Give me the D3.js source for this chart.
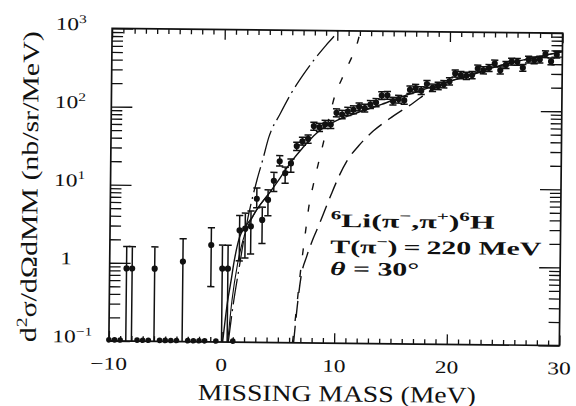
<!doctype html>
<html>
<head>
<meta charset="utf-8">
<script src="https://cdnjs.cloudflare.com/ajax/libs/d3/7.8.5/d3.min.js"></script>
<style>
  body { margin: 0; background: #fff; }
  svg { display: block; }
  text { font-family: 'Liberation Serif', serif; fill: #111; }
</style>
</head>
<body>
<script>
const W = 576, H = 406;
const x0 = 110.5, x1 = 561, y0 = 30.8, y1 = 343.2;
const tilt = 0.6; // the scanned figure sits slightly rotated

// points with zero counts, drawn on the bottom axis
const zeroX = [-10, -9.5, -9, -7.5, -7, -6.5, -5.5, -5, -4.5, -4, -3, -2.5, -2, -1.5, -0.5, 1];

// measured points
const ptX = [-8.5, -8, -6, -3.5, -1, 0, 0.5, 1.5, 2, 2.5, 3, 3.5, 4, 4.5, 5, 5.5, 6,
  6.5, 7, 7.5, 8, 8.5, 9, 9.5, 10, 10.5, 11, 11.5, 12, 12.5, 13, 13.5, 14, 14.5, 15, 15.5, 16,
  16.5, 17, 17.5, 18, 18.5, 19, 19.5, 20, 20.5, 21, 21.5, 22, 22.5, 23, 23.5, 24, 24.5, 25,
  25.5, 26, 26.5, 27, 27.5, 28, 28.5, 29, 29.5];
const ptY = [0.85, 0.85, 0.85, 1.06, 1.74, 0.87, 0.87, 2.7, 2.85, 3.05, 6.9, 3.7, 6.7, 11.8, 21, 14.8, 19.8,
  33, 38, 41, 60, 58, 63, 63, 89, 85, 93, 98, 107, 103, 115, 122, 150, 152, 128, 136, 131,
  180, 189, 176, 214, 192, 203, 214, 233, 295, 282, 276, 283, 343, 327, 350, 400, 328, 385,
  425, 423, 356, 455, 445, 456, 535, 433, 530];
const ptLo = [0.1, 0.1, 0.1, 0.1, 0.51, 0.1, 0.1, 1.1, 1.2, 1.35, 5.3, 1.85, 4.2, 8.6, 18.3, 11, 15.2,
  29, 34, 36, 53, 51, 56, 56, 79, 75, 83, 87, 95, 92, 102, 108, 134, 135, 114, 121, 117,
  161, 169, 157, 192, 172, 182, 192, 209, 265, 253, 248, 254, 309, 294, 315, 361, 295, 347,
  384, 382, 321, 411, 402, 412, 484, 391, 480];
const ptHi = [1.62, 1.62, 1.62, 2.07, 2.9, 1.74, 1.74, 4.2, 4.5, 4.8, 9.5, 5.4, 9.0, 15.1, 24.8, 17.7, 22.5,
  37, 43, 46, 67, 65, 71, 71, 100, 96, 105, 110, 120, 116, 129, 137, 168, 170, 143, 152, 147,
  201, 211, 197, 238, 214, 226, 238, 259, 327, 313, 306, 314, 380, 362, 387, 442, 363, 426,
  469, 467, 393, 502, 491, 503, 590, 478, 585];

// calculated curves
const fitX = [0.1, 0.5, 0.8, 1.0, 1.5, 2, 2.5, 3, 4, 5, 6, 7, 8, 9, 10, 11, 12, 13, 14, 16, 18, 20, 22, 24, 26, 28, 30];
const fitY = [0.1, 0.33, 0.62, 0.98, 2.2, 3.0, 3.8, 5.0, 7.8, 12.5, 20.5, 31, 45, 59, 71, 81, 92, 103, 116, 150, 188, 233, 285, 360, 430, 500, 580];
const fit2X = [0.55, 0.9, 1.35, 1.8, 2.3, 2.8, 3.2, 4];
const fit2Y = [0.1, 0.35, 1.0, 2.0, 3.2, 4.4, 5.5, 7.8];
const longDashX = [6.4, 6.7, 7.0, 7.5, 8.0, 8.4, 9.0, 9.6, 10.3, 11, 12, 13.3, 14.7, 16.8, 18.3, 20, 22, 24, 26, 28, 30];
const longDashY = [0.1, 0.3, 0.7, 1.3, 2.1, 2.9, 4.8, 8.0, 14, 22, 34, 53, 76, 122, 176, 232, 290, 360, 430, 500, 580];
const shortDashX = [6.3, 6.6, 6.9, 7.35, 7.65, 8.0, 8.4, 9.0, 9.5, 9.9, 10.4, 10.8, 11.3, 11.7, 12.1];
const shortDashY = [0.1, 0.25, 0.7, 2.6, 5.8, 10.5, 19, 45, 95, 160, 235, 320, 460, 640, 1070];
const dashDotX = [0.6, 1.0, 1.5, 2.0, 2.5, 3.0, 3.5, 4, 5, 6, 7, 8, 9, 10, 10.2];
const dashDotY = [0.1, 0.3, 0.9, 2.6, 6, 12, 22, 42, 85, 160, 270, 430, 650, 980, 1100];

// axis labels
const xTickVals = [-10, 0, 10, 20, 30];
const xTickText = ['\u221210', '0', '10', '20', '30'];
const yTickVals = [0.1, 1, 10, 100, 1000];
const yTickBase = ['10', '1', '10', '10', '10'];
const yTickExp = ['\u22121', '', '1', '2', '3'];

const svg = d3.select('body').append('svg').attr('width', W).attr('height', H);
const g = svg.append('g')
  .attr('transform', `rotate(${tilt},${(x0 + x1) / 2},${(y0 + y1) / 2})`);

const x = d3.scaleLinear().domain([-10, 30]).range([x0, x1]);
const y = d3.scaleLog().domain([0.1, 1000]).range([y1, y0]);

// ticks
const minorX = d3.range(-10, 31, 1).filter(v => v % 10 !== 0);
const minorY = [];
[0.1, 1, 10, 100].forEach(d => { for (let k = 2; k <= 9; k++) minorY.push(d * k); });

function tickAxis(axis, tr) {
  const a = g.append('g').attr('transform', tr).call(axis);
  a.select('.domain').remove();
  a.selectAll('line').attr('stroke', '#111').attr('stroke-width', 1.3);
}
tickAxis(d3.axisBottom(x).tickValues(minorX).tickSize(-5).tickFormat(''), `translate(0,${y1})`);
tickAxis(d3.axisBottom(x).tickValues(xTickVals).tickSize(-10).tickFormat(''), `translate(0,${y1})`);
tickAxis(d3.axisTop(x).tickValues(minorX).tickSize(-5).tickFormat(''), `translate(0,${y0})`);
tickAxis(d3.axisTop(x).tickValues(xTickVals).tickSize(-10).tickFormat(''), `translate(0,${y0})`);
tickAxis(d3.axisLeft(y).tickValues(minorY).tickSize(-11).tickFormat(''), `translate(${x0},0)`);
tickAxis(d3.axisLeft(y).tickValues(yTickVals).tickSize(-21).tickFormat(''), `translate(${x0},0)`);
tickAxis(d3.axisRight(y).tickValues(minorY).tickSize(-11).tickFormat(''), `translate(${x1},0)`);
tickAxis(d3.axisRight(y).tickValues(yTickVals).tickSize(-21).tickFormat(''), `translate(${x1},0)`);

g.append('rect')
  .attr('x', x0).attr('y', y0)
  .attr('width', x1 - x0).attr('height', y1 - y0)
  .attr('fill', 'none').attr('stroke', '#111').attr('stroke-width', 1.7);

// curves
g.append('clipPath').attr('id', 'plotclip').append('rect')
  .attr('x', x0).attr('y', y0).attr('width', x1 - x0).attr('height', y1 - y0);
const line = d3.line().x(d => x(d[0])).y(d => y(d[1])).curve(d3.curveMonotoneX);
const curves = g.append('g').attr('clip-path', 'url(#plotclip)')
  .attr('fill', 'none').attr('stroke', '#111');
function drawCurve(xs, ys, dash, w) {
  curves.append('path')
    .attr('d', line(d3.zip(xs, ys)))
    .attr('stroke-width', w)
    .attr('stroke-dasharray', dash);
}
drawCurve(fitX, fitY, null, 1.4);
drawCurve(fit2X, fit2Y, null, 1.1);
drawCurve(longDashX, longDashY, '17,8', 1.4);
drawCurve(shortDashX, shortDashY, '7,15', 1.4);
drawCurve(dashDotX, dashDotY, '26,5,2,5', 1.3);

// data
const pts = g.append('g');
const rows = ptX.map((v, i) => ({ x: v, y: ptY[i], lo: ptLo[i], hi: ptHi[i] }));
pts.selectAll('.bar').data(rows).enter().append('path')
  .attr('class', 'bar')
  .attr('fill', 'none').attr('stroke', '#111').attr('stroke-width', 1.5)
  .attr('d', d => {
    const px = x(d.x), c = 3.6;
    return `M${px},${y(d.lo)}V${y(d.hi)}M${px - c},${y(d.hi)}H${px + c}` +
      (d.lo > 0.1 ? `M${px - c},${y(d.lo)}H${px + c}` : '');
  });
pts.selectAll('.pt').data(rows).enter().append('circle')
  .attr('class', 'pt')
  .attr('cx', d => x(d.x)).attr('cy', d => y(d.y)).attr('r', 3.1)
  .attr('fill', '#111');
pts.selectAll('.zero').data(zeroX).enter().append('circle')
  .attr('class', 'zero')
  .attr('cx', d => x(d)).attr('cy', y(0.1) - 1).attr('r', 2.8)
  .attr('fill', '#111');

// rich text helper: parts are [text, superscript?, italic?]
function rich(sel, parts, size) {
  let shift = 0;
  parts.forEach(([t, sup, it]) => {
    const want = sup ? -size * 0.4 : 0;
    const ts = sel.append('tspan').attr('dy', want - shift)
      .style('font-size', (sup ? size * 0.66 : size) + 'px').text(t);
    if (it) ts.style('font-style', 'italic');
    shift = want;
  });
  return sel;
}

// tick labels
xTickVals.forEach((v, i) => {
  g.append('text')
    .attr('transform', `translate(${x(v)},372) scale(1.3,1)`)
    .attr('text-anchor', 'middle')
    .style('font-size', '18px')
    .text(xTickText[i]);
});
yTickVals.forEach((v, i) => {
  const base = yTickBase[i];
  const t = g.append('text')
    .attr('transform', `translate(${base === '1' ? 61 : 54},${y(v) + 2}) scale(1.3,1)`);
  rich(t, [[base, false], [yTickExp[i], true]], 18);
});

// axis titles
g.append('text')
  .attr('x', 200).attr('y', 401.5)
  .attr('textLength', 278).attr('lengthAdjust', 'spacingAndGlyphs')
  .style('font-size', '23px')
  .text('MISSING MASS (MeV)');
rich(g.append('text')
  .attr('transform', `translate(37.5,${190 + 311 / 2}) rotate(-90)`)
  .attr('textLength', 311).attr('lengthAdjust', 'spacingAndGlyphs'),
  [['d', false], ['2', true], ['\u03c3/d\u03a9dMM (nb/sr/MeV)', false]], 23);

// reaction annotation
const note = g.append('g').style('font-weight', 'bold');
rich(note.append('text').attr('x', 331).attr('y', 227)
  .attr('textLength', 164).attr('lengthAdjust', 'spacingAndGlyphs'),
  [['6', true], ['Li(\u03c0', false], ['\u2212', true], [',\u03c0', false], ['+', true], [')', false], ['6', true], ['H', false]], 19);
rich(note.append('text').attr('x', 331).attr('y', 253)
  .attr('textLength', 211).attr('lengthAdjust', 'spacingAndGlyphs'),
  [['T(\u03c0', false], ['\u2212', true], [')\u2009=\u2009220 MeV', false]], 19);
rich(note.append('text').attr('x', 331).attr('y', 275)
  .attr('textLength', 89).attr('lengthAdjust', 'spacingAndGlyphs'),
  [['\u03b8', false, true], [' = 30\u00b0', false]], 19);
</script>
</body>
</html>
